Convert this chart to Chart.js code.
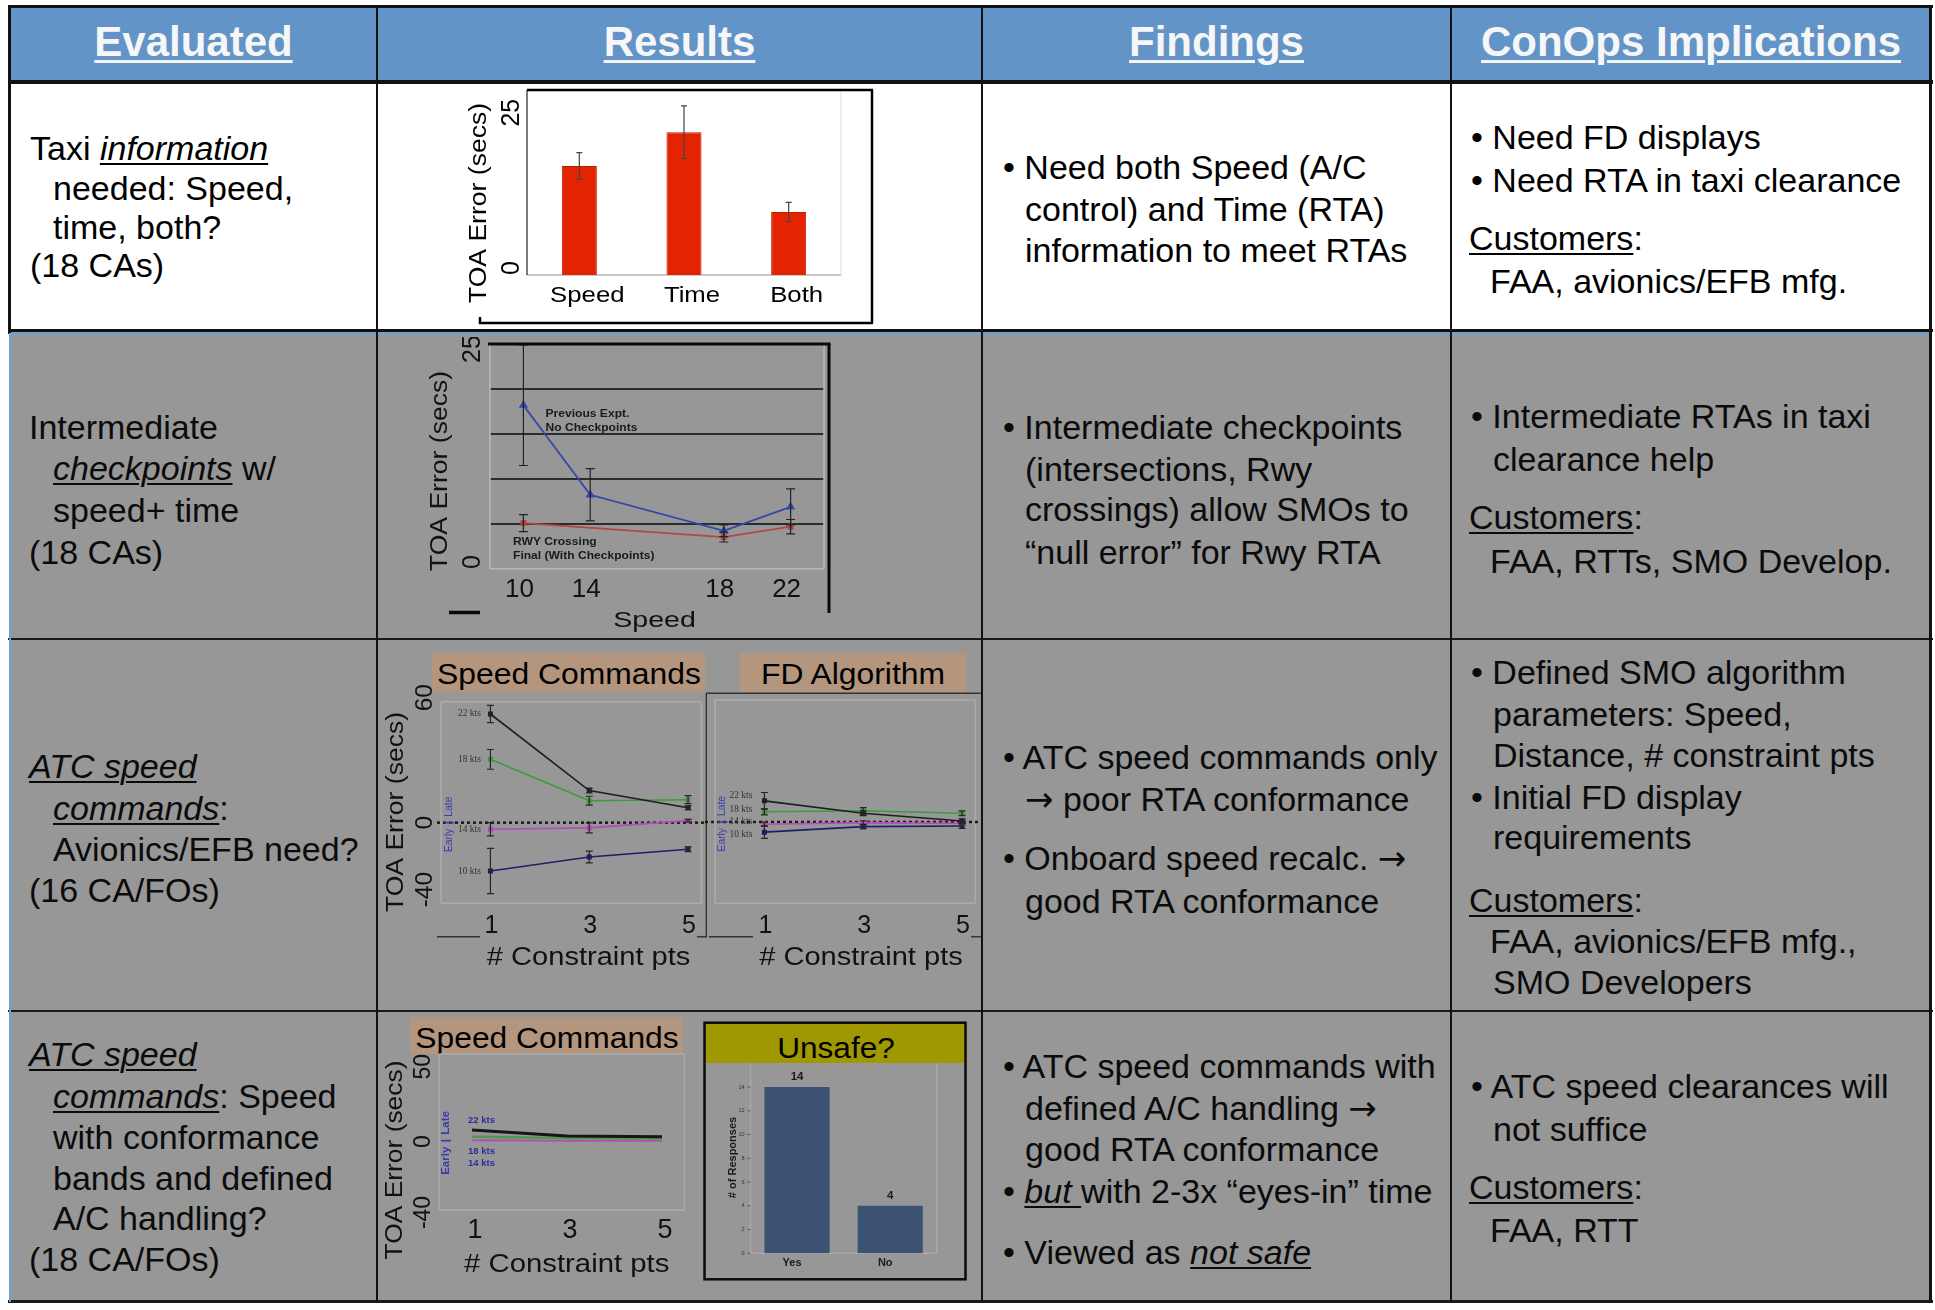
<!DOCTYPE html>
<html lang="en">
<head>
<meta charset="utf-8">
<title>Surface RTA studies: results, findings and ConOps implications</title>
<script src="https://cdn.jsdelivr.net/npm/chart.js@4.4.1/dist/chart.umd.min.js"></script>
<style>
  html, body { margin: 0; padding: 0; }
  body { width: 1935px; height: 1310px; position: relative; overflow: hidden; background: #fff;
         font-family: "Liberation Sans", Arial, Helvetica, sans-serif; }
  .box { position: absolute; }
  .tx { position: absolute; white-space: nowrap; color: #000; }
  .tx u { text-decoration-thickness: 2px; text-underline-offset: 3px; }
  .hd { color: #f6f6f6; font-weight: bold; }
  .hd u { text-decoration-thickness: 3px; text-underline-offset: 4px; }
  .dim { color: #0b0b0b; }
  .arr { font-family: "DejaVu Sans", sans-serif; }
  canvas { position: absolute; }
</style>
</head>
<body>
<script>
// ---------------- data ----------------
// Row 1: TOA error by taxi information type
const taxiCategories = ['Speed', 'Time', 'Both'];
const taxiToaError = [16.8, 22.0, 9.7];
const taxiToaErrorSd = [2.05, 4.05, 1.5];
const taxiYTicks = [0, 25];

// Row 2: TOA error by taxi speed, with and without intermediate checkpoints
const checkpointSpeeds = ['10', '14', '', '18', '22'];
const noCheckpointError = [18.2, 8.25, null, 4.25, 6.9];
const noCheckpointSd = [6.7, 2.9, null, 0.65, 2.0];
const withCheckpointError = [5.1, null, null, 3.55, 4.7];
const withCheckpointSd = [0.95, null, null, 0.55, 0.8];
const checkpointYTicks = [0, 25];

// Row 3: ATC speed commands vs. FD algorithm, by number of constraint points
const constraintPts = [1, 3, 5];
const ktsLabels = ['22 kts', '18 kts', '14 kts', '10 kts'];
const cmd22 = [53.9, 15.9, 7.4];     const cmd22Sd = [4.3, 1.2, 1.0];
const cmd18 = [31.4, 10.9, 11.4];    const cmd18Sd = [4.9, 2.2, 2.0];
const cmd14 = [-3.3, -2.6, 1.0];     const cmd14Sd = [3.3, 2.5, 0.6];
const cmd10 = [-24.0, -17.0, -13.2]; const cmd10Sd = [11.2, 2.9, 1.2];
const fd22 = [10.4, 4.3, 0.5];       const fd22Sd = [4.1, 1.2, 1.0];
const fd18 = [5.0, 5.5, 4.3];        const fd18Sd = [1.5, 1.6, 1.2];
const fd14 = [-1.1, -0.3, -0.6];     const fd14Sd = [1.0, 0.9, 0.9];
const fd10 = [-5.0, -2.3, -2.0];     const fd10Sd = [3.1, 1.0, 1.2];
const toaYTicks = [60, 0, -40];

// Row 4: speed commands with conformance bands, and the "unsafe?" survey
const bandKtsLabels = ['22 kts', '18 kts', '14 kts'];
const band22 = [6.2, 2.7, 2.3];
const band18 = [2.3, 1.6, 1.2];
const band14 = [0.2, 0.0, -0.1];
const bandYTicks = [50, 0, -40];
const unsafeCategories = ['Yes', 'No'];
const unsafeResponses = [14, 4];
const unsafeYTicks = [0, 2, 4, 6, 8, 10, 12, 14];

// ---------------- page helpers ----------------
const SANS = '"Liberation Sans", Arial, sans-serif';
Chart.defaults.font.family = SANS;

function rect(x, y, w, h, bg) {
  const d = document.createElement('div');
  d.className = 'box';
  Object.assign(d.style, { left: x + 'px', top: y + 'px', width: w + 'px', height: h + 'px', background: bg });
  document.body.appendChild(d);
  return d;
}

// one line of text, placed by its baseline
function line(x, base, html, o = {}) {
  const size = o.size || 34;
  const d = document.createElement('div');
  d.className = 'tx' + (o.cls ? ' ' + o.cls : '');
  d.style.fontSize = size + 'px';
  d.style.lineHeight = size + 'px';
  d.style.top = (base - 0.8465 * size) + 'px';
  if (o.center != null) {
    d.style.left = (o.center - 400) + 'px';
    d.style.width = '800px';
    d.style.textAlign = 'center';
  } else {
    d.style.left = x + 'px';
    d.style.transformOrigin = 'left center';
  }
  if (o.sx) d.style.transform = 'scaleX(' + o.sx + ')';
  d.innerHTML = html;
  document.body.appendChild(d);
}

// ---------------- table ----------------
rect(10, 7, 1921, 75, '#6294C8');     // header band
rect(10, 82, 1921, 249, '#ffffff');   // row 1
rect(10, 331, 1921, 971, '#979797');  // rows 2-4

rect(8, 5, 1925, 3, '#111');
rect(8, 80, 1925, 4, '#111');
rect(8, 329, 1925, 3, '#111');
rect(10, 333, 1921, 2, '#6d9fd8');
rect(8, 638, 1925, 2, '#1a1a1a');
rect(8, 1010, 1925, 2, '#1a1a1a');
rect(8, 1300, 1925, 3, '#1a1a1a');
rect(8, 5, 2.5, 329, '#111');
rect(9, 333, 2, 969, '#6d9fd8');
rect(376, 5, 2, 1297, '#111');
rect(981, 5, 2, 1297, '#111');
rect(1450, 5, 2, 1297, '#111');
rect(1929, 5, 2.5, 1297, '#111');

// header
[['Evaluated', 193.5], ['Results', 679.5], ['Findings', 1216.5], ['ConOps Implications', 1691]]
  .forEach(([t, cx]) => line(0, 57, '<u>' + t + '</u>', { size: 42, center: cx, cls: 'hd' }));

const B = '\u2022 ';
const CUST = '<u>Customers</u>:';
const ARROW = '<span class="arr">\u2192</span>';
const cells = [
  // row 1
  [30, 160, 'Taxi <i><u>information</u></i>'], [53, 200, 'needed: Speed,'], [53, 239, 'time, both?'], [30, 277, '(18 CAs)'],
  [1003, 179, B + 'Need both Speed (A/C'], [1025, 221, 'control) and Time (RTA)'], [1025, 262, 'information to meet RTAs'],
  [1471, 149, B + 'Need FD displays'], [1471, 192, B + 'Need RTA in taxi clearance'], [1469, 250, CUST], [1490, 293, 'FAA, avionics/EFB mfg.']
];
cells.forEach(([x, b, h]) => line(x, b, h));

const dimCells = [
  // row 2
  [29, 439, 'Intermediate'], [53, 480, '<i><u>checkpoints</u></i> w/'], [53, 522, 'speed+ time'], [29, 564, '(18 CAs)'],
  [1003, 439, B + 'Intermediate checkpoints'], [1025, 481, '(intersections, Rwy'], [1025, 521, 'crossings) allow SMOs to'],
  [1025, 564, '\u201Cnull error\u201D for Rwy RTA'],
  [1471, 428, B + 'Intermediate RTAs in taxi'], [1493, 471, 'clearance help'], [1469, 529, CUST], [1490, 573, 'FAA, RTTs, SMO Develop.'],
  // row 3
  [29, 778, '<i><u>ATC speed</u></i>'], [53, 820, '<i><u>commands</u></i>:'], [53, 861, 'Avionics/EFB need?'], [29, 902, '(16 CA/FOs)'],
  [1003, 769, B + 'ATC speed commands only'], [1025, 811, ARROW + ' poor RTA conformance'],
  [1003, 870, B + 'Onboard speed recalc. ' + ARROW], [1025, 913, 'good RTA conformance'],
  [1471, 684, B + 'Defined SMO algorithm'], [1493, 726, 'parameters: Speed,'], [1493, 767, 'Distance, # constraint pts'],
  [1471, 809, B + 'Initial FD display'], [1493, 849, 'requirements'], [1469, 912, CUST],
  [1490, 953, 'FAA, avionics/EFB mfg.,'], [1493, 994, 'SMO Developers'],
  // row 4
  [29, 1066, '<i><u>ATC speed</u></i>'], [53, 1108, '<i><u>commands</u></i>: Speed'], [53, 1149, 'with conformance'],
  [53, 1190, 'bands and defined'], [53, 1230, 'A/C handling?'], [29, 1271, '(18 CA/FOs)'],
  [1003, 1078, B + 'ATC speed commands with'], [1025, 1120, 'defined A/C handling ' + ARROW], [1025, 1161, 'good RTA conformance'],
  [1003, 1203, B + '<i><u>but </u></i>with 2-3x \u201Ceyes-in\u201D time'], [1003, 1264, B + 'Viewed as <i><u>not safe</u></i>'],
  [1471, 1098, B + 'ATC speed clearances will'], [1493, 1141, 'not suffice'], [1469, 1199, CUST], [1490, 1242, 'FAA, RTT']
];
dimCells.forEach(([x, b, h]) => line(x, b, h, { cls: 'dim' }));

// panel title boxes
rect(432, 653, 273, 39, '#B4967F');
line(0, 684, 'Speed Commands', { size: 29.5, center: 568.5, sx: 1.08 });
rect(740, 653, 226, 39, '#B4967F');
line(0, 684, 'FD Algorithm', { size: 29.5, center: 853, sx: 1.08 });
rect(410, 1017, 273, 37, '#B4967F');
line(0, 1048, 'Speed Commands', { size: 30, center: 546.5, sx: 1.06 });
rect(706, 1024, 258, 39, '#A09800');
line(0, 1057.5, 'Unsafe?', { size: 29.5, center: 835.5, sx: 1.07 });

// ---------------- chart helpers ----------------
function makeCanvas(b) {
  const c = document.createElement('canvas');
  c.width = b.w; c.height = b.h;
  Object.assign(c.style, { left: b.x + 'px', top: b.y + 'px', width: b.w + 'px', height: b.h + 'px' });
  document.body.appendChild(c);
  return c;
}
function baseOptions(box, area, scales) {
  return {
    responsive: false, animation: false, events: [], devicePixelRatio: 1,
    layout: { padding: { left: area.l - box.x, top: area.t - box.y, right: box.x + box.w - area.r, bottom: box.y + box.h - area.b } },
    plugins: { legend: { display: false }, tooltip: { enabled: false } },
    scales
  };
}
function seg(c, x1, y1, x2, y2, w, col, dash) {
  c.save(); c.beginPath(); c.lineWidth = w; c.strokeStyle = col;
  if (dash) c.setLineDash(dash);
  c.moveTo(x1, y1); c.lineTo(x2, y2); c.stroke(); c.restore();
}
function text(c, s, x, y, o = {}) {
  c.save();
  c.translate(x, y);
  if (o.rot) c.rotate(-Math.PI / 2);
  if (o.sx) c.scale(o.sx, 1);
  c.font = (o.bold ? 'bold ' : '') + (o.size || 12) + 'px ' + (o.family || SANS);
  c.fillStyle = o.color || '#000';
  c.textAlign = o.align || 'center';
  c.textBaseline = o.base || 'middle';
  c.fillText(s, 0, 0);
  c.restore();
}
// vertical error bars from each dataset's `errors` array
const errorBars = {
  id: 'errorBars',
  afterDatasetsDraw(chart) {
    const ctx = chart.ctx, yS = chart.scales.y;
    chart.data.datasets.forEach((ds, di) => {
      if (!ds.errors) return;
      const meta = chart.getDatasetMeta(di);
      ctx.save();
      ctx.strokeStyle = ds.errorColor || '#222';
      ctx.lineWidth = ds.errorWidth || 1.2;
      meta.data.forEach((el, i) => {
        const d = ds.data[i];
        const v = d !== null && typeof d === 'object' ? d.y : d;
        const e = ds.errors[i];
        if (v == null || e == null) return;
        const x = el.x, y1 = yS.getPixelForValue(v + e), y2 = yS.getPixelForValue(v - e), cap = ds.errorCap || 3;
        ctx.beginPath();
        ctx.moveTo(x, y1); ctx.lineTo(x, y2);
        ctx.moveTo(x - cap, y1); ctx.lineTo(x + cap, y1);
        ctx.moveTo(x - cap, y2); ctx.lineTo(x + cap, y2);
        ctx.stroke();
      });
      ctx.restore();
    });
  }
};
// decorations drawn in page coordinates
function deco(box, before, after) {
  const run = (fn, ch) => {
    if (!fn) return;
    const c = ch.ctx, a = ch.chartArea;
    const g = {
      X: v => ch.scales.x.getPixelForValue(v) + box.x,
      Y: v => ch.scales.y.getPixelForValue(v) + box.y,
      A: { l: a.left + box.x, r: a.right + box.x, t: a.top + box.y, b: a.bottom + box.y },
      pts: di => ch.getDatasetMeta(di).data.map(p => ({ x: p.x + box.x, y: p.y + box.y }))
    };
    c.save(); c.translate(-box.x, -box.y); fn(c, g, ch); c.restore();
  };
  return { id: 'deco', beforeDatasetsDraw(ch) { run(before, ch); }, afterDraw(ch) { run(after, ch); } };
}
function frame(c, A, col, w) {
  seg(c, A.l, A.t, A.r, A.t, w, col); seg(c, A.r, A.t, A.r, A.b, w, col);
  seg(c, A.r, A.b, A.l, A.b, w, col); seg(c, A.l, A.b, A.l, A.t, w, col);
}
function yTicks(c, g, ticks, x, o, nudge, startMin) {
  const lo = Math.min(...ticks);
  ticks.forEach((v, i) => {
    const start = startMin && v === lo;
    text(c, String(v), x, g.Y(v) + ((nudge && nudge[i]) || 0), Object.assign({}, o, { rot: true, align: start ? 'left' : 'center' }));
  });
}
// rotated "Early | Late" marker centred on the zero line
function earlyLate(c, x, y0, size, color, bold) {
  text(c, 'Late', x, y0 - 6, { size, color, bold, rot: true, align: 'left' });
  text(c, 'Early', x, y0 + 6, { size, color, bold, rot: true, align: 'right' });
  seg(c, x - 5, y0, x + 5, y0, 1.6, color);
}
const TITLE = { size: 23.5, sx: 1.13, color: '#111' };

// ---------------- Row 1: bar chart ----------------
const box1 = { x: 465, y: 86, w: 415, h: 242 }, area1 = { l: 527, t: 90, r: 841, b: 275 };
new Chart(makeCanvas(box1), {
  type: 'bar',
  data: { labels: taxiCategories, datasets: [{
    data: taxiToaError, errors: taxiToaErrorSd, backgroundColor: '#E42400', borderColor: '#BE1E00', borderWidth: 1,
    barPercentage: 0.335, categoryPercentage: 1, errorColor: '#444', errorCap: 3 }] },
  options: baseOptions(box1, area1, { x: { display: false }, y: { display: false, min: 0, max: 28.5 } }),
  plugins: [errorBars, deco(box1, (c, g) => {
    seg(c, g.A.l, g.Y(0), g.A.r, g.Y(0), 2, '#c8c8c8');
    seg(c, g.A.r, g.A.t, g.A.r, g.A.b, 1, '#dcdcdc');
  }, (c, g) => {
    seg(c, g.A.l, g.A.t, g.A.l, g.A.b, 1.2, '#222');
    seg(c, g.A.l, g.A.t, 873, g.A.t, 2.5, '#000');
    seg(c, 872, g.A.t, 872, 323, 2.5, '#000');
    seg(c, 479, 323, 873, 323, 2.5, '#000');
    seg(c, 480, 317, 480, 324, 2.5, '#000');
    text(c, 'TOA Error (secs)', 480, 203, Object.assign({ rot: true }, TITLE, { color: '#000' }));
    yTicks(c, g, taxiYTicks, 512, { size: 25, color: '#000' }, null, true);
    g.pts(0).forEach((p, i) => text(c, taxiCategories[i], p.x + 8, 302, { size: 22, sx: 1.17, base: 'alphabetic' }));
  })]
});

// ---------------- Row 2: line chart by speed ----------------
const box2 = { x: 425, y: 337, w: 412, h: 298 }, area2 = { l: 490, t: 344, r: 824, b: 569 };
new Chart(makeCanvas(box2), {
  type: 'line',
  data: { labels: checkpointSpeeds, datasets: [
    { data: noCheckpointError, errors: noCheckpointSd, borderColor: '#3447a8', backgroundColor: '#3447a8', borderWidth: 1.8,
      pointStyle: 'triangle', pointRadius: 3.5, spanGaps: true, errorColor: '#222', errorCap: 4.5 },
    { data: withCheckpointError, errors: withCheckpointSd, borderColor: '#b04848', backgroundColor: '#b02c2c', borderWidth: 1.8,
      pointStyle: 'rect', pointRadius: 3, spanGaps: true, errorColor: '#222', errorCap: 4.5 }
  ] },
  options: baseOptions(box2, area2, {
    x: { type: 'category', display: false, offset: true },
    y: { display: true, min: 0, max: 25, border: { display: false },
         ticks: { display: false, stepSize: 5 },
         grid: { drawTicks: false,
                 color: ctx => ctx.tick.value === 0 ? '#b8b8b8' : (ctx.tick.value === 25 ? 'rgba(0,0,0,0)' : '#2c2c2c'),
                 lineWidth: ctx => ctx.tick.value === 0 ? 1.5 : 2 } }
  }),
  plugins: [errorBars, deco(box2, (c, g) => {
    seg(c, g.A.l, g.A.t, g.A.l, g.A.b, 1.5, '#b8b8b8');
    seg(c, g.A.r, g.A.t, g.A.r, g.A.b, 1.5, '#b8b8b8');
  }, (c, g) => {
    seg(c, 488, g.A.t, 830.5, g.A.t, 3, '#0a0a0a');
    seg(c, 829, g.A.t, 829, 613, 3, '#0a0a0a');
    seg(c, 449, 612.5, 480, 612.5, 3.5, '#0a0a0a');
    text(c, 'TOA Error (secs)', 441, 471, Object.assign({ rot: true }, TITLE));
    yTicks(c, g, checkpointYTicks, 473, { size: 25, color: '#111' }, [0, 5], true);
    checkpointSpeeds.forEach((s, i) => { if (s) text(c, s, g.X(i) - 4, 596.5, { size: 26, base: 'alphabetic', color: '#111' }); });
    text(c, 'Speed', 654.5, 626.5, { size: 22, sx: 1.3, base: 'alphabetic', color: '#111' });
    const note = { size: 10.5, sx: 1.15, bold: true, align: 'left', base: 'alphabetic', color: '#1a1a1a' };
    text(c, 'Previous Expt.', 545.5, 417, note);
    text(c, 'No Checkpoints', 545.5, 431, note);
    text(c, 'RWY Crossing', 513, 545, note);
    text(c, 'Final (With Checkpoints)', 513, 558.5, note);
  })]
});

// ---------------- Row 3: two panels by constraint points ----------------
function ptsSeries(vals, sds, color) {
  return { data: constraintPts.map((x, i) => ({ x, y: vals[i] })), errors: sds, borderColor: color, backgroundColor: color,
           borderWidth: 1.6, pointStyle: 'rect', pointRadius: 2.4, errorColor: '#262626', errorCap: 3.5 };
}
const KCOL = ['#1e1e1e', '#3c9c3c', '#bc46bc', '#1e1e66'];
const ktsFont = { size: 9.5, color: '#333', family: '"Liberation Serif", "Times New Roman", serif' };

const box3a = { x: 380, y: 676, w: 327, h: 316 }, area3a = { l: 441, t: 701.7, r: 701.5, b: 903.3 };
new Chart(makeCanvas(box3a), {
  type: 'line',
  data: { datasets: [ptsSeries(cmd22, cmd22Sd, KCOL[0]), ptsSeries(cmd18, cmd18Sd, KCOL[1]),
                     ptsSeries(cmd14, cmd14Sd, KCOL[2]), ptsSeries(cmd10, cmd10Sd, KCOL[3])] },
  options: baseOptions(box3a, area3a, { x: { type: 'linear', display: false, min: 0, max: 5.27 },
                                       y: { display: false, min: -40, max: 60 } }),
  plugins: [errorBars, deco(box3a, (c, g) => {
    frame(c, g.A, '#ababab', 1.5);
    seg(c, 437, g.Y(0), 707, g.Y(0), 2.5, '#1a1a1a', [3, 3]);
  }, (c, g) => {
    seg(c, 437, 936.7, 480, 936.7, 1.5, '#333');
    seg(c, 697, 936.7, 707, 936.7, 1.5, '#333');
    seg(c, 706.4, 693.3, 706.4, 937.4, 1.5, '#333');
    [0, 1, 2, 3].forEach(k => { const p = g.pts(k)[0]; text(c, ktsLabels[k], p.x - 9.5, p.y, Object.assign({ align: 'right' }, ktsFont)); });
    earlyLate(c, 449.5, g.Y(0), 10.3, '#3c3cb4', false);
    text(c, 'TOA Error (secs)', 397, 812, Object.assign({ rot: true }, TITLE));
    yTicks(c, g, toaYTicks, 425, { size: 24.5, color: '#111' }, [-4, 0, 4], true);
    constraintPts.forEach(v => text(c, String(v), g.X(v) + 1, 932.7, { size: 25, base: 'alphabetic', color: '#111' }));
    text(c, '# Constraint pts', 588.6, 965, { size: 25.5, sx: 1.14, base: 'alphabetic', color: '#111' });
  })]
});

const box3b = { x: 705, y: 686, w: 276, h: 306 }, area3b = { l: 715, t: 700, r: 976.3, b: 903.3 };
const fdLabelNudge = [-5, -2.5, -2.3, 2.3];
new Chart(makeCanvas(box3b), {
  type: 'line',
  data: { datasets: [ptsSeries(fd22, fd22Sd, KCOL[0]), ptsSeries(fd18, fd18Sd, KCOL[1]),
                     ptsSeries(fd14, fd14Sd, KCOL[2]), ptsSeries(fd10, fd10Sd, KCOL[3])] },
  options: baseOptions(box3b, area3b, { x: { type: 'linear', display: false, min: 0, max: 5.27 },
                                       y: { display: false, min: -40, max: 60 } }),
  plugins: [errorBars, deco(box3b, (c, g) => {
    frame(c, g.A, '#ababab', 1.5);
    seg(c, 705, g.Y(0), 981, g.Y(0), 2.5, '#1a1a1a', [3, 3]);
  }, (c, g) => {
    seg(c, 706, 693.3, 981, 693.3, 1.5, '#333');
    seg(c, 709, 936.7, 753, 936.7, 1.5, '#333');
    seg(c, 971, 936.7, 981, 936.7, 1.5, '#333');
    [0, 1, 2, 3].forEach(k => { const p = g.pts(k)[0]; text(c, ktsLabels[k], p.x - 12, p.y + fdLabelNudge[k], Object.assign({ align: 'right' }, ktsFont)); });
    earlyLate(c, 722.5, g.Y(0), 10.3, '#3c3cb4', false);
    constraintPts.forEach(v => text(c, String(v), g.X(v) + 1, 932.7, { size: 25, base: 'alphabetic', color: '#111' }));
    text(c, '# Constraint pts', 861, 965, { size: 25.5, sx: 1.14, base: 'alphabetic', color: '#111' });
  })]
});

// ---------------- Row 4: conformance bands + survey ----------------
const box4a = { x: 382, y: 1040, w: 318, h: 250 }, area4a = { l: 439.3, t: 1054, r: 684.3, b: 1210 };
function bandSeries(vals, color, w) {
  return { data: constraintPts.map((x, i) => ({ x, y: vals[i] })), borderColor: color, borderWidth: w, pointRadius: 0 };
}
const bandLabelNudge = [-10, 14.3, 23];
new Chart(makeCanvas(box4a), {
  type: 'line',
  data: { datasets: [bandSeries(band22, '#161616', 3), bandSeries(band18, '#4a9a4a', 2.5), bandSeries(band14, '#b050b0', 2)] },
  options: baseOptions(box4a, area4a, { x: { type: 'linear', display: false, min: 0.31, max: 5.47 },
                                       y: { display: false, min: -40, max: 50 } }),
  plugins: [deco(box4a, (c, g) => {
    frame(c, g.A, '#ababab', 1.5);
  }, (c, g) => {
    [0, 1, 2].forEach(k => { const p = g.pts(k)[0];
      text(c, bandKtsLabels[k], p.x - 4, p.y + bandLabelNudge[k], { size: 9.5, bold: true, align: 'left', color: '#2d2d9c' }); });
    earlyLate(c, 446, g.Y(0), 11.5, '#3a3ab0', true);
    text(c, 'TOA Error (secs)', 395.5, 1160, Object.assign({ rot: true }, TITLE, { size: 24, sx: 1.1 }));
    yTicks(c, g, bandYTicks, 423.5, { size: 23, color: '#111' }, [12.7, 1, 2.5], false);
    constraintPts.forEach(v => text(c, String(v), g.X(v) + 3, 1238, { size: 27, base: 'alphabetic', color: '#111' }));
    text(c, '# Constraint pts', 566.7, 1271.7, { size: 25.5, sx: 1.15, base: 'alphabetic', color: '#111' });
  })]
});

const box4b = { x: 700, y: 1018, w: 270, h: 266 }, area4b = { l: 750.5, t: 1063.3, r: 936.8, b: 1253.3 };
new Chart(makeCanvas(box4b), {
  type: 'bar',
  data: { labels: unsafeCategories, datasets: [{ data: unsafeResponses, backgroundColor: '#3c5272', barPercentage: 0.7, categoryPercentage: 1 }] },
  options: baseOptions(box4b, area4b, { x: { display: false }, y: { display: false, min: 0, max: 16 } }),
  plugins: [deco(box4b, (c, g) => {
    seg(c, g.A.l, g.A.t, g.A.l, g.A.b, 1.5, '#a9a9a9');
    seg(c, g.A.r, g.A.t, g.A.r, g.A.b, 1.5, '#a9a9a9');
    seg(c, g.A.l, g.A.b, g.A.r, g.A.b, 1.5, '#a9a9a9');
    unsafeYTicks.forEach(v => {
      seg(c, g.A.l - 3, g.Y(v), g.A.l, g.Y(v), 1, '#555');
      text(c, String(v), g.A.l - 6, g.Y(v), { size: 5.5, align: 'right', color: '#333' });
    });
  }, (c, g) => {
    c.save(); c.lineWidth = 2.5; c.strokeStyle = '#0a0a0a'; c.strokeRect(704.5, 1022.7, 261, 256.6); c.restore();
    g.pts(0).forEach((p, i) => {
      text(c, String(unsafeResponses[i]), p.x, p.y - 10, { size: 11.5, bold: true, color: '#1a1a1a' });
      text(c, unsafeCategories[i], p.x - 5, 1266, { size: 11, bold: true, base: 'alphabetic', color: '#1a1a1a' });
    });
    text(c, '# of Responses', 733, 1157.5, { size: 11, bold: true, rot: true, color: '#1a1a1a' });
  })]
});
</script>
</body>
</html>
